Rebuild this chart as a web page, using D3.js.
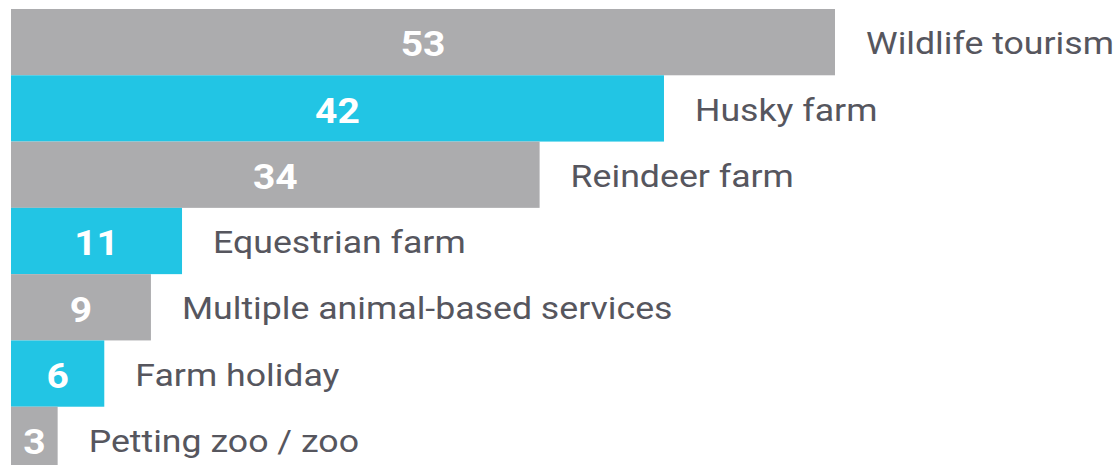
<!DOCTYPE html>
<html>
<head>
<meta charset="utf-8">
<script src="https://cdn.jsdelivr.net/npm/d3@7"></script>
<style>
  html, body { margin: 0; padding: 0; background: #fff; overflow: hidden; }
  svg { display: block; }
</style>
</head>
<body>
<svg id="chart" width="1119" height="465"></svg>
<script>
// chart data
var categories = ["Wildlife tourism", "Husky farm", "Reindeer farm", "Equestrian farm",
                  "Multiple animal-based services", "Farm holiday", "Petting zoo / zoo"];
var values = [53, 42, 34, 11, 9, 6, 3];
var barColors = ["#acacae", "#22c5e4"];

var svg = d3.select("#chart");

// scales
var x = d3.scaleLinear().domain([0, 53]).range([11, 835]);
var y = d3.scaleBand().domain(categories).range([9, 473]).padding(0);

// text in the original is a bit wider than Roboto at this size
var stretch = 1.115;

var rows = categories.map(function (c, i) { return { name: c, value: values[i], idx: i }; });

var g = svg.append("g");

g.selectAll(".bar")
  .data(rows)
  .enter().append("rect")
  .attr("class", "bar")
  .attr("x", x(0))
  .attr("y", function (d) { return y(d.name); })
  .attr("width", function (d) { return x(d.value) - x(0); })
  .attr("height", y.bandwidth())
  .style("fill", function (d) { return barColors[d.idx % 2]; });

// numbers inside bars
g.selectAll(".val")
  .data(rows)
  .enter().append("text")
  .attr("class", "val")
  .attr("transform", function (d) {
    return "translate(" + ((x(0) + x(d.value)) / 2) + "," + (y(d.name) + y.bandwidth() / 2) + ") scale(" + stretch + ",1)";
  })
  .attr("dy", "0.41em")
  .attr("text-anchor", "middle")
  .style("font-family", "Roboto, sans-serif")
  .style("font-weight", "bold")
  .style("font-size", "35px")
  .style("fill", "#ffffff")
  .text(function (d) { return d.value; });

// category labels to the right
g.selectAll(".lab")
  .data(rows)
  .enter().append("text")
  .attr("class", "lab")
  .attr("transform", function (d) {
    return "translate(" + (x(d.value) + 31) + "," + (y(d.name) + y.bandwidth() / 2) + ") scale(" + stretch + ",1)";
  })
  .attr("dy", "0.38em")
  .style("font-family", "Roboto, sans-serif")
  .style("font-size", "32px")
  .style("fill", "#56565e")
  .text(function (d) { return d.name; });
</script>
</body>
</html>
